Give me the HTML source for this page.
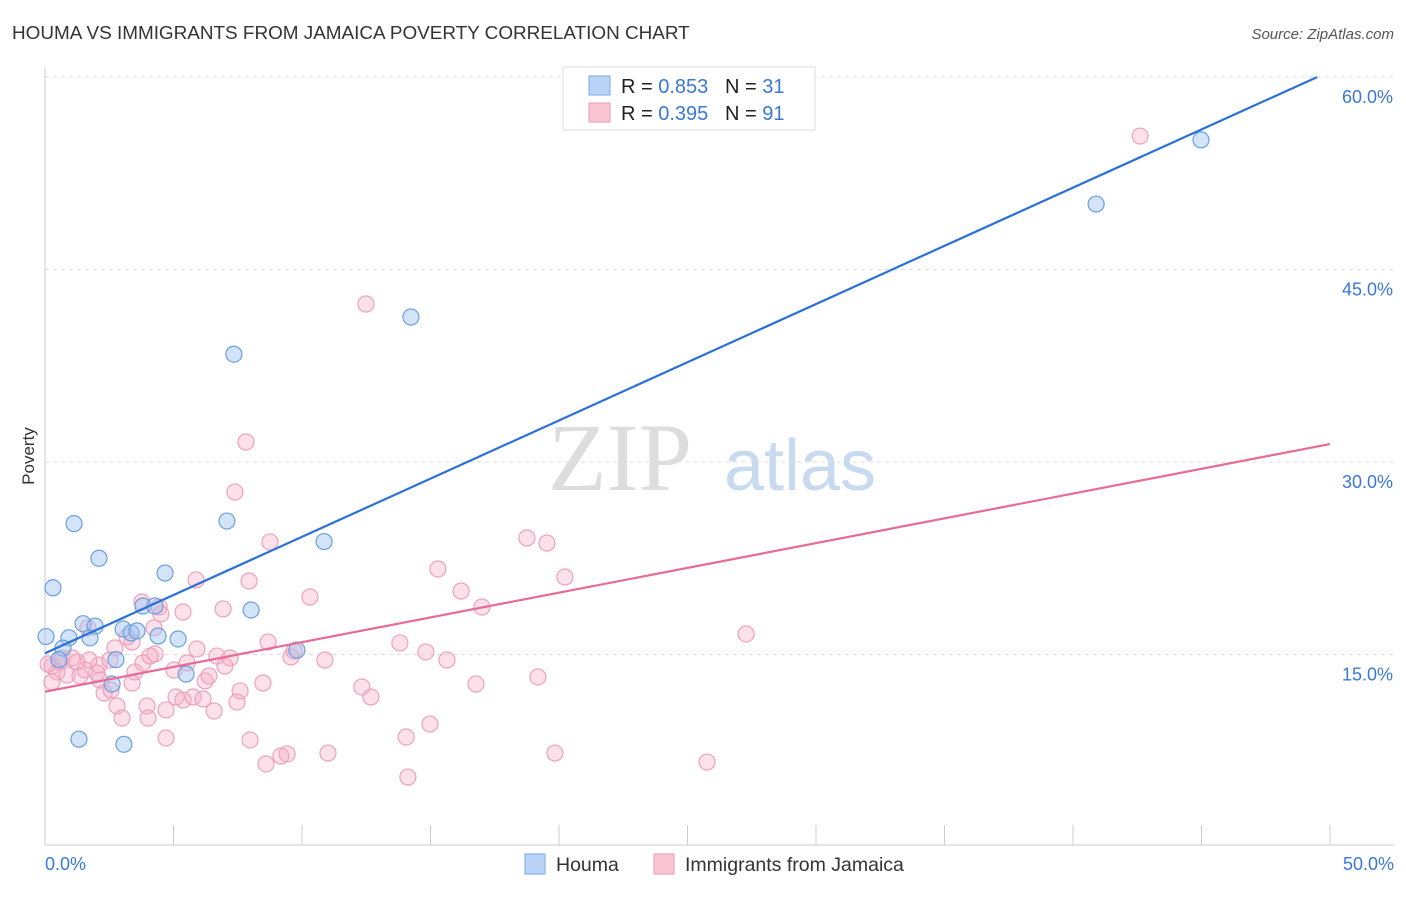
<!DOCTYPE html>
<html><head><meta charset="utf-8"><style>
body{margin:0;background:#fff;font-family:"Liberation Sans",sans-serif}
</style></head><body>
<svg id="c" width="1406" height="892" xmlns="http://www.w3.org/2000/svg">
<text x="12" y="39" font-size="18.9" fill="#333">HOUMA VS IMMIGRANTS FROM JAMAICA POVERTY CORRELATION CHART</text>
<text x="1394" y="39" font-size="15" fill="#555" font-style="italic" text-anchor="end">Source: ZipAtlas.com</text>
<text x="620" y="490" font-size="96" fill="#ddd" font-family="Liberation Serif,serif" text-anchor="middle">ZIP</text>
<text x="800" y="490" font-size="72" fill="#c8daf0" text-anchor="middle">atlas</text>
<text x="34" y="456" font-size="17" fill="#333" transform="rotate(-90 34 456)" text-anchor="middle">Poverty</text>
<g id="grid"></g><g id="pts"></g><g id="lines"></g>
<g>
<rect x="563" y="67" width="252" height="63" fill="#fff" stroke="#ddd"/>
<rect x="589" y="76" width="21" height="19" fill="#b8d3f5" stroke="#7aa8e0"/>
<text x="621" y="93" font-size="20" fill="#222">R = <tspan fill="#3a78d8">0.853</tspan>&#160;&#160;&#160;N = <tspan fill="#3a78d8">31</tspan></text>
<rect x="589" y="103" width="21" height="19" fill="#f9c5d5" stroke="#ea9ab3"/>
<text x="621" y="120" font-size="20" fill="#222">R = <tspan fill="#3a78d8">0.395</tspan>&#160;&#160;&#160;N = <tspan fill="#3a78d8">91</tspan></text>
</g>
<g>
<rect x="525" y="854" width="20" height="20" fill="#b8d3f5" stroke="#7aa8e0"/>
<text x="556" y="871" font-size="19.5" fill="#333">Houma</text>
<rect x="654" y="854" width="20" height="20" fill="#f9c5d5" stroke="#ea9ab3"/>
<text x="685" y="871" font-size="19.5" fill="#333">Immigrants from Jamaica</text>
</g>
</svg>
<script>
const yTicks=[15,30,45,60];
const xTickLabels=["0.0%","50.0%"];
const houmaX=[0.04,0.31,1.13,2.1,0.93,1.48,1.95,1.75,0.7,0.54,2.76,2.61,1.32,3.07,3.04,3.35,3.58,3.81,4.28,4.67,5.18,5.49,7.35,7.08,8.02,9.8,10.86,14.24,40.9,44.98,4.4];
const houmaY=[16.4,20.2,25.2,22.5,16.3,17.4,17.2,16.3,15.5,14.6,14.6,12.7,8.4,8.0,16.99,16.68,16.84,18.78,18.78,21.35,16.21,13.48,38.4,25.4,18.47,15.34,23.8,41.3,50.1,55.1,16.44];
const jamPx=[[366,304],[1140,136],[246,442],[235,492],[270,542],[527,538],[547,543],[438,569],[565,577],[461,591],[482,607],[196,580],[249,581],[310,597],[223,609],[142,602],[159,607],[183,612],[161,614],[268,642],[400,643],[426,652],[447,660],[325,660],[294,651],[291,657],[746,634],[538,677],[476,684],[362,687],[371,697],[263,683],[217,656],[230,658],[225,666],[197,649],[187,663],[174,670],[155,654],[132,642],[115,648],[127,637],[99,665],[89,660],[77,662],[60,662],[52,666],[57,672],[52,682],[67,675],[80,676],[97,673],[104,693],[111,690],[117,706],[132,683],[135,672],[122,718],[148,718],[147,706],[166,710],[176,697],[183,700],[193,697],[205,681],[209,676],[203,699],[214,711],[240,691],[237,702],[250,740],[166,738],[266,764],[281,756],[287,754],[328,753],[406,737],[430,724],[408,777],[555,753],[707,762],[48,664],[62,658],[72,658],[85,670],[110,660],[143,663],[88,628],[150,656],[154,628],[100,680]];
const jamX=jamPx.map(p=>+((p[0]-45)/25.7).toFixed(2));
const jamY=jamPx.map(p=>+((847-p[1])/12.833).toFixed(2));
const houmaLine=[15.1,60.45];
const jamLine=[12.1,31.4];
const X=v=>45+v*25.7, Y=v=>847-v*12.833;
const NS="http://www.w3.org/2000/svg";
function mk(t,a,parent){const e=document.createElementNS(NS,t);for(const k in a)e.setAttribute(k,a[k]);document.getElementById(parent).appendChild(e);return e;}
yTicks.forEach(t=>{
 const l=mk('line',{x1:45,x2:1394,y1:Y(t),y2:Y(t),stroke:'#ddd','stroke-dasharray':'4,4'},'grid');
 
 
 const tx=mk('text',{x:1393,y:Y(t)+26,'font-size':18,fill:'#3a78d8','text-anchor':'end'},'grid');
 tx.textContent=t.toFixed(1)+'%';
 
 
});
mk('line',{x1:45,x2:45,y1:68,y2:845,stroke:'#ccc'},'grid');
mk('line',{x1:45,x2:1394,y1:845,y2:845,stroke:'#ccc'},'grid');
for(let i=0;i<=10;i++){mk('line',{x1:X(i*5),x2:X(i*5),y1:825,y2:845,stroke:'#ccc'},'grid');}
xTickLabels.forEach((s,i)=>{const t=mk('text',{x:i?1394:45,y:870,'font-size':18,fill:'#3a78d8','text-anchor':i?'end':'start'},'grid');t.textContent=s;
 
 });
jamX.forEach((x,i)=>{const c=mk('circle',{cx:X(x),cy:Y(jamY[i]),r:8,fill:'rgba(246,170,195,0.35)',stroke:'#eea2ba','stroke-width':1.2},'pts');
 
 });
houmaX.forEach((x,i)=>{const c=mk('circle',{cx:X(x),cy:Y(houmaY[i]),r:8,fill:'rgba(160,196,240,0.45)',stroke:'#6a9fe0','stroke-width':1.2},'pts');
 
 });
const bl=mk('line',{x1:X(0),y1:Y(houmaLine[0]),x2:X(49.5),y2:Y(houmaLine[0]+(houmaLine[1]-houmaLine[0])*49.5/50),stroke:'#2a70d8','stroke-width':2.2},'lines');


const pl=mk('line',{x1:X(0),y1:Y(jamLine[0]),x2:X(50),y2:Y(jamLine[1]),stroke:'#e86a98','stroke-width':2.2},'lines');


</script>
</body></html>
